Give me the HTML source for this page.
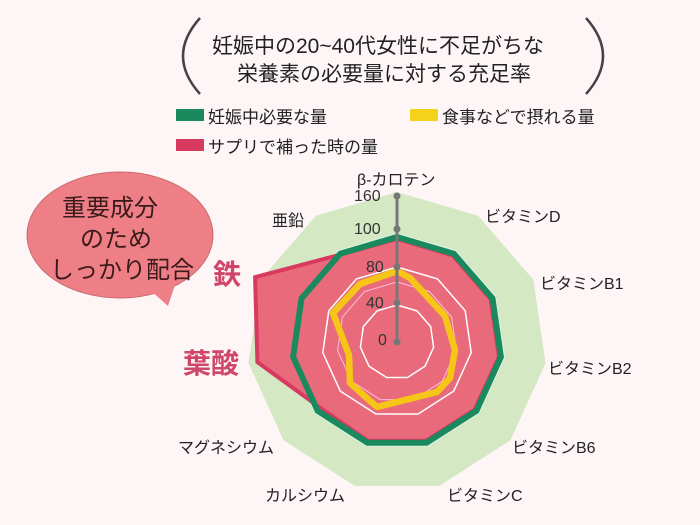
<!DOCTYPE html>
<html><head><meta charset="utf-8"><style>
html,body{margin:0;padding:0}
body{width:700px;height:525px;overflow:hidden;background:#fdf5f6;font-family:"Liberation Sans","Noto Sans CJK JP",sans-serif;position:relative;color:#222}
.t{position:absolute;white-space:nowrap}
.l{font-size:16px;color:#222}
</style></head><body>
<svg width="700" height="525" style="position:absolute;left:0;top:0">
<path d="M200,18 Q166,56 200,94" fill="none" stroke="#444" stroke-width="2.5"/>
<path d="M586,18 Q620,56 586,94" fill="none" stroke="#444" stroke-width="2.5"/>
<rect x="176" y="109" width="28" height="12" fill="#1a8a5e"/>
<rect x="410" y="109" width="28" height="12" fill="#f5d21a"/>
<rect x="176" y="139" width="28" height="12" fill="#d83a5f"/>
<ellipse cx="120" cy="235" rx="93" ry="63" fill="#ee7f86" stroke="#c96a70" stroke-width="1"/>
<path d="M150,290 L168,306 L175,285 Z" fill="#ee7f86"/>
<g id="chart"></g>
</svg>
<div class="t" style="left:212px;top:30px;font-size:21px">妊娠中の20~40代女性に不足がちな</div>
<div class="t" style="left:237px;top:58px;font-size:21px">栄養素の必要量に対する充足率</div>
<div class="t" style="left:208px;top:103px;font-size:17px">妊娠中必要な量</div>
<div class="t" style="left:442px;top:103px;font-size:17px">食事などで摂れる量</div>
<div class="t" style="left:208px;top:133px;font-size:17px">サプリで補った時の量</div>
<div class="t" style="left:62px;top:188px;font-size:24px;color:#3a1a1a">重要成分</div>
<div class="t" style="left:80px;top:219px;font-size:24px;color:#3a1a1a">のため</div>
<div class="t" style="left:50px;top:250px;font-size:24px;color:#3a1a1a">しっかり配合</div>
<div class="t" style="left:213px;top:253px;font-size:28px;font-weight:bold;color:#d0466a">鉄</div>
<div class="t" style="left:183px;top:342px;font-size:28px;font-weight:bold;color:#d0466a">葉酸</div>
<div class="t l" style="left:357px;top:166px">β-カロテン</div>
<div class="t l" style="left:272px;top:207px">亜鉛</div>
<div class="t l" style="left:485px;top:203px">ビタミンD</div>
<div class="t l" style="left:540px;top:270px">ビタミンB1</div>
<div class="t l" style="left:548px;top:355px">ビタミンB2</div>
<div class="t l" style="left:512px;top:434px">ビタミンB6</div>
<div class="t l" style="left:447px;top:482px">ビタミンC</div>
<div class="t l" style="left:265px;top:482px">カルシウム</div>
<div class="t l" style="left:178px;top:434px">マグネシウム</div>
<div class="t" style="left:354px;top:188px;font-size:16px;color:#333">160</div>
<div class="t" style="left:354px;top:221px;font-size:16px;color:#333">100</div>
<div class="t" style="left:366px;top:259px;font-size:16px;color:#333">80</div>
<div class="t" style="left:366px;top:295px;font-size:16px;color:#333">40</div>
<div class="t" style="left:378px;top:332px;font-size:16px;color:#333">0</div>
<script>
var cx=397,cy=342,N=11;
function pts(rs){var a=[];for(var i=0;i<N;i++){var r=typeof rs=="number"?rs:rs[i];var t=i*2*Math.PI/N;a.push((cx+r*Math.sin(t)).toFixed(1)+","+(cy-r*Math.cos(t)).toFixed(1));}return a.join(" ");}
var g=document.getElementById("chart"),s="";
s+='<polygon points="'+pts(150)+'" fill="#d4e8c4"/>';
s+='<polygon points="'+pts(109)+'" fill="#e4f4ea"/>';
s+='<polygon points="'+pts([103,103,103,103,103,103,103,101,141,156,104])+'" fill="#e96b7b" stroke="#d83a5f" stroke-width="4" stroke-linejoin="miter"/>';
s+='<polygon points="'+pts(75)+'" fill="none" stroke="#fff" stroke-width="1.5"/>';
s+='<polygon points="'+pts(60)+'" fill="none" stroke="#fbd" stroke-width="1"/>';
s+='<polygon points="'+pts(37)+'" fill="none" stroke="#fff" stroke-width="1.5"/>';
s+='<polygon points="'+pts(105)+'" fill="none" stroke="#1a8a5e" stroke-width="6"/>';
s+='<polyline points="397,271 410,278 445,316 455,350 450,378 437,392 377,407 350,383 349,355 333,313 360,284 397,271" fill="none" stroke="#f5c518" stroke-width="6.5" stroke-linejoin="round"/>';
s+='<line x1="397" y1="342" x2="397" y2="196" stroke="#777" stroke-width="3"/>';
[196,229,267,303,342].forEach(function(y){s+='<circle cx="397" cy="'+y+'" r="3.5" fill="#777"/>';});
g.innerHTML=s;
</script>
</body></html>
